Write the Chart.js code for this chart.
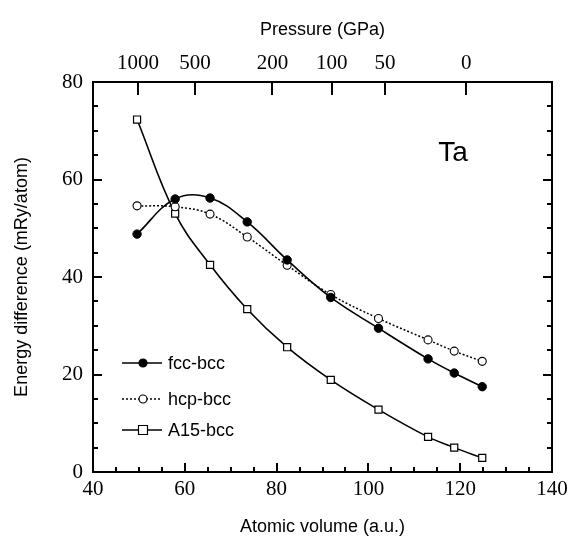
<!DOCTYPE html>
<html><head><meta charset="utf-8">
<script src="https://cdn.jsdelivr.net/npm/chart.js@4/dist/chart.umd.min.js"></script>
<style>html,body{margin:0;padding:0;background:#fff;overflow:hidden}</style>
</head><body>
<canvas id="c" width="587" height="542" style="width:587px;height:542px;display:block"></canvas>
<script>
// ---- data ----
const volumes = [49.6, 57.9, 65.5, 73.6, 82.3, 91.8, 102.2, 113.0, 118.7, 124.8];
const fccBcc  = [48.8, 56.0, 56.2, 51.3, 43.5, 35.8, 29.5, 23.2, 20.3, 17.5];
const hcpBcc  = [54.6, 54.4, 52.9, 48.2, 42.4, 36.4, 31.5, 27.1, 24.8, 22.7];
const a15Bcc  = [72.3, 53.0, 42.5, 33.4, 25.6, 18.9, 12.8, 7.2, 5.0, 2.9];
const seriesLabels = ['fcc-bcc', 'hcp-bcc', 'A15-bcc'];
const pressureLabels  = ['1000', '500', '200', '100', '50', '0'];
const pressureVolumes = [49.8, 62.2, 79.1, 92.0, 103.6, 121.3];
const xTickValues = [40, 60, 80, 100, 120, 140];
const yTickValues = [0, 20, 40, 60, 80];
const elementLabel = 'Ta';

const toPts = ys => volumes.map((v, i) => ({x: v, y: ys[i]}));
const SERIF = "'Liberation Serif', 'DejaVu Serif', serif";
const SANS = "'Liberation Sans', Arial, sans-serif";

const inwardTicks = {
  id: 'inwardTicks',
  afterDatasetsDraw(chart) {
    const {ctx, chartArea: a, scales} = chart;
    const xs = scales.x, ys = scales.y;
    ctx.save();
    ctx.strokeStyle = '#000';
    ctx.lineWidth = 2;
    ctx.beginPath();
    for (let v = xs.min; v <= xs.max; v += 5) {
      const px = Math.round(xs.getPixelForValue(v));
      const len = (v % 20 === 0) ? 9 : 5;
      ctx.moveTo(px, a.bottom); ctx.lineTo(px, a.bottom - len);
    }
    for (let v = ys.min; v <= ys.max; v += 5) {
      const py = Math.round(ys.getPixelForValue(v));
      const len = (v % 20 === 0) ? 9 : 5;
      ctx.moveTo(a.left, py); ctx.lineTo(a.left + len, py);
      ctx.moveTo(a.right, py); ctx.lineTo(a.right - len, py);
    }
    pressureVolumes.forEach(v => {
      const px = Math.round(xs.getPixelForValue(v));
      ctx.moveTo(px, a.top); ctx.lineTo(px, a.top + 13);
    });
    ctx.stroke();
    // element label
    ctx.fillStyle = '#000';
    ctx.font = '28px ' + SANS;
    ctx.textAlign = 'left';
    ctx.textBaseline = 'middle';
    ctx.fillText(elementLabel, xs.getPixelForValue(115.2), ys.getPixelForValue(65.4));
    // legend
    const rows = [363, 399, 430];
    chart.data.datasets.forEach((ds, i) => {
      const y = rows[i];
      const x0 = 122, x1 = 162, xm = 143;
      ctx.save();
      ctx.strokeStyle = '#000';
      ctx.lineWidth = ds.borderWidth;
      ctx.setLineDash(ds.borderDash || []);
      ctx.beginPath(); ctx.moveTo(x0, y); ctx.lineTo(x1, y); ctx.stroke();
      ctx.setLineDash([]);
      ctx.lineWidth = 1.2;
      ctx.fillStyle = ds.pointBackgroundColor;
      ctx.beginPath();
      if (ds.pointStyle === 'rect') {
        ctx.rect(xm - 4.5, y - 4.5, 9, 9);
      } else {
        ctx.arc(xm, y, 4, 0, Math.PI * 2);
      }
      ctx.fill(); ctx.stroke();
      ctx.restore();
      ctx.fillStyle = '#000';
      ctx.font = '18px ' + SANS;
      ctx.textAlign = 'left';
      ctx.textBaseline = 'middle';
      ctx.fillText(ds.label, 168, y + 1);
    });
    ctx.restore();
  }
};

new Chart(document.getElementById('c'), {
  type: 'line',
  data: {
    datasets: [
      {label: seriesLabels[0], data: toPts(fccBcc), borderColor: '#000', borderWidth: 1.6,
       pointStyle: 'circle', pointRadius: 4.2, pointBackgroundColor: '#000', pointBorderColor: '#000',
       pointBorderWidth: 1, tension: 0.4},
      {label: seriesLabels[1], data: toPts(hcpBcc), borderColor: '#000', borderWidth: 1.5, borderDash: [2, 2],
       pointStyle: 'circle', pointRadius: 4, pointBackgroundColor: '#fff', pointBorderColor: '#000',
       pointBorderWidth: 1.1, tension: 0.4},
      {label: seriesLabels[2], data: toPts(a15Bcc), borderColor: '#000', borderWidth: 1.6,
       pointStyle: 'rect', pointRadius: 5, pointBackgroundColor: '#fff', pointBorderColor: '#000',
       pointBorderWidth: 1.2, tension: 0.4}
    ]
  },
  options: {
    responsive: false,
    animation: false,
    devicePixelRatio: 1,
    layout: {padding: {left: 0, right: 35, top: 0, bottom: 0}},
    plugins: {legend: {display: false}, tooltip: {enabled: false}},
    scales: {
      x: {
        type: 'linear', position: 'bottom', min: 40, max: 140,
        afterBuildTicks: s => { s.ticks = xTickValues.map(v => ({value: v})); },
        ticks: {color: '#000', font: {family: SERIF, size: 21}, padding: 5, maxRotation: 0},
        grid: {display: false, drawTicks: false},
        border: {display: true, color: '#000', width: 2},
        title: {display: true, text: 'Atomic volume (a.u.)', color: '#000', font: {family: SANS, size: 18}, padding: {top: 8, bottom: 4}},
        afterFit: s => { s.height = 70; }
      },
      x2: {
        type: 'linear', position: 'top', min: 40, max: 140,
        afterBuildTicks: s => { s.ticks = pressureVolumes.map(v => ({value: v})); },
        ticks: {color: '#000', font: {family: SERIF, size: 21}, padding: 6, maxRotation: 0,
                callback: (v, i) => pressureLabels[i]},
        grid: {display: false, drawTicks: false},
        border: {display: true, color: '#000', width: 2},
        title: {display: true, text: 'Pressure (GPa)', color: '#000', font: {family: SANS, size: 18}, padding: {top: 19, bottom: 4}},
        afterFit: s => { s.height = 82; }
      },
      y: {
        type: 'linear', position: 'left', min: 0, max: 80,
        afterBuildTicks: s => { s.ticks = yTickValues.map(v => ({value: v})); },
        ticks: {color: '#000', font: {family: SERIF, size: 21}, padding: 10},
        grid: {display: false, drawTicks: false},
        border: {display: true, color: '#000', width: 2},
        title: {display: true, text: 'Energy difference (mRy/atom)', color: '#000', font: {family: SANS, size: 18}, padding: {top: 11, bottom: 4}},
        afterFit: s => { s.width = 93; }
      },
      y2: {
        type: 'linear', position: 'right', min: 0, max: 80,
        ticks: {display: false},
        grid: {display: false, drawTicks: false},
        border: {display: true, color: '#000', width: 2},
        afterFit: s => { s.width = 0; }
      }
    }
  },
  plugins: [inwardTicks]
});
</script>
</body></html>
